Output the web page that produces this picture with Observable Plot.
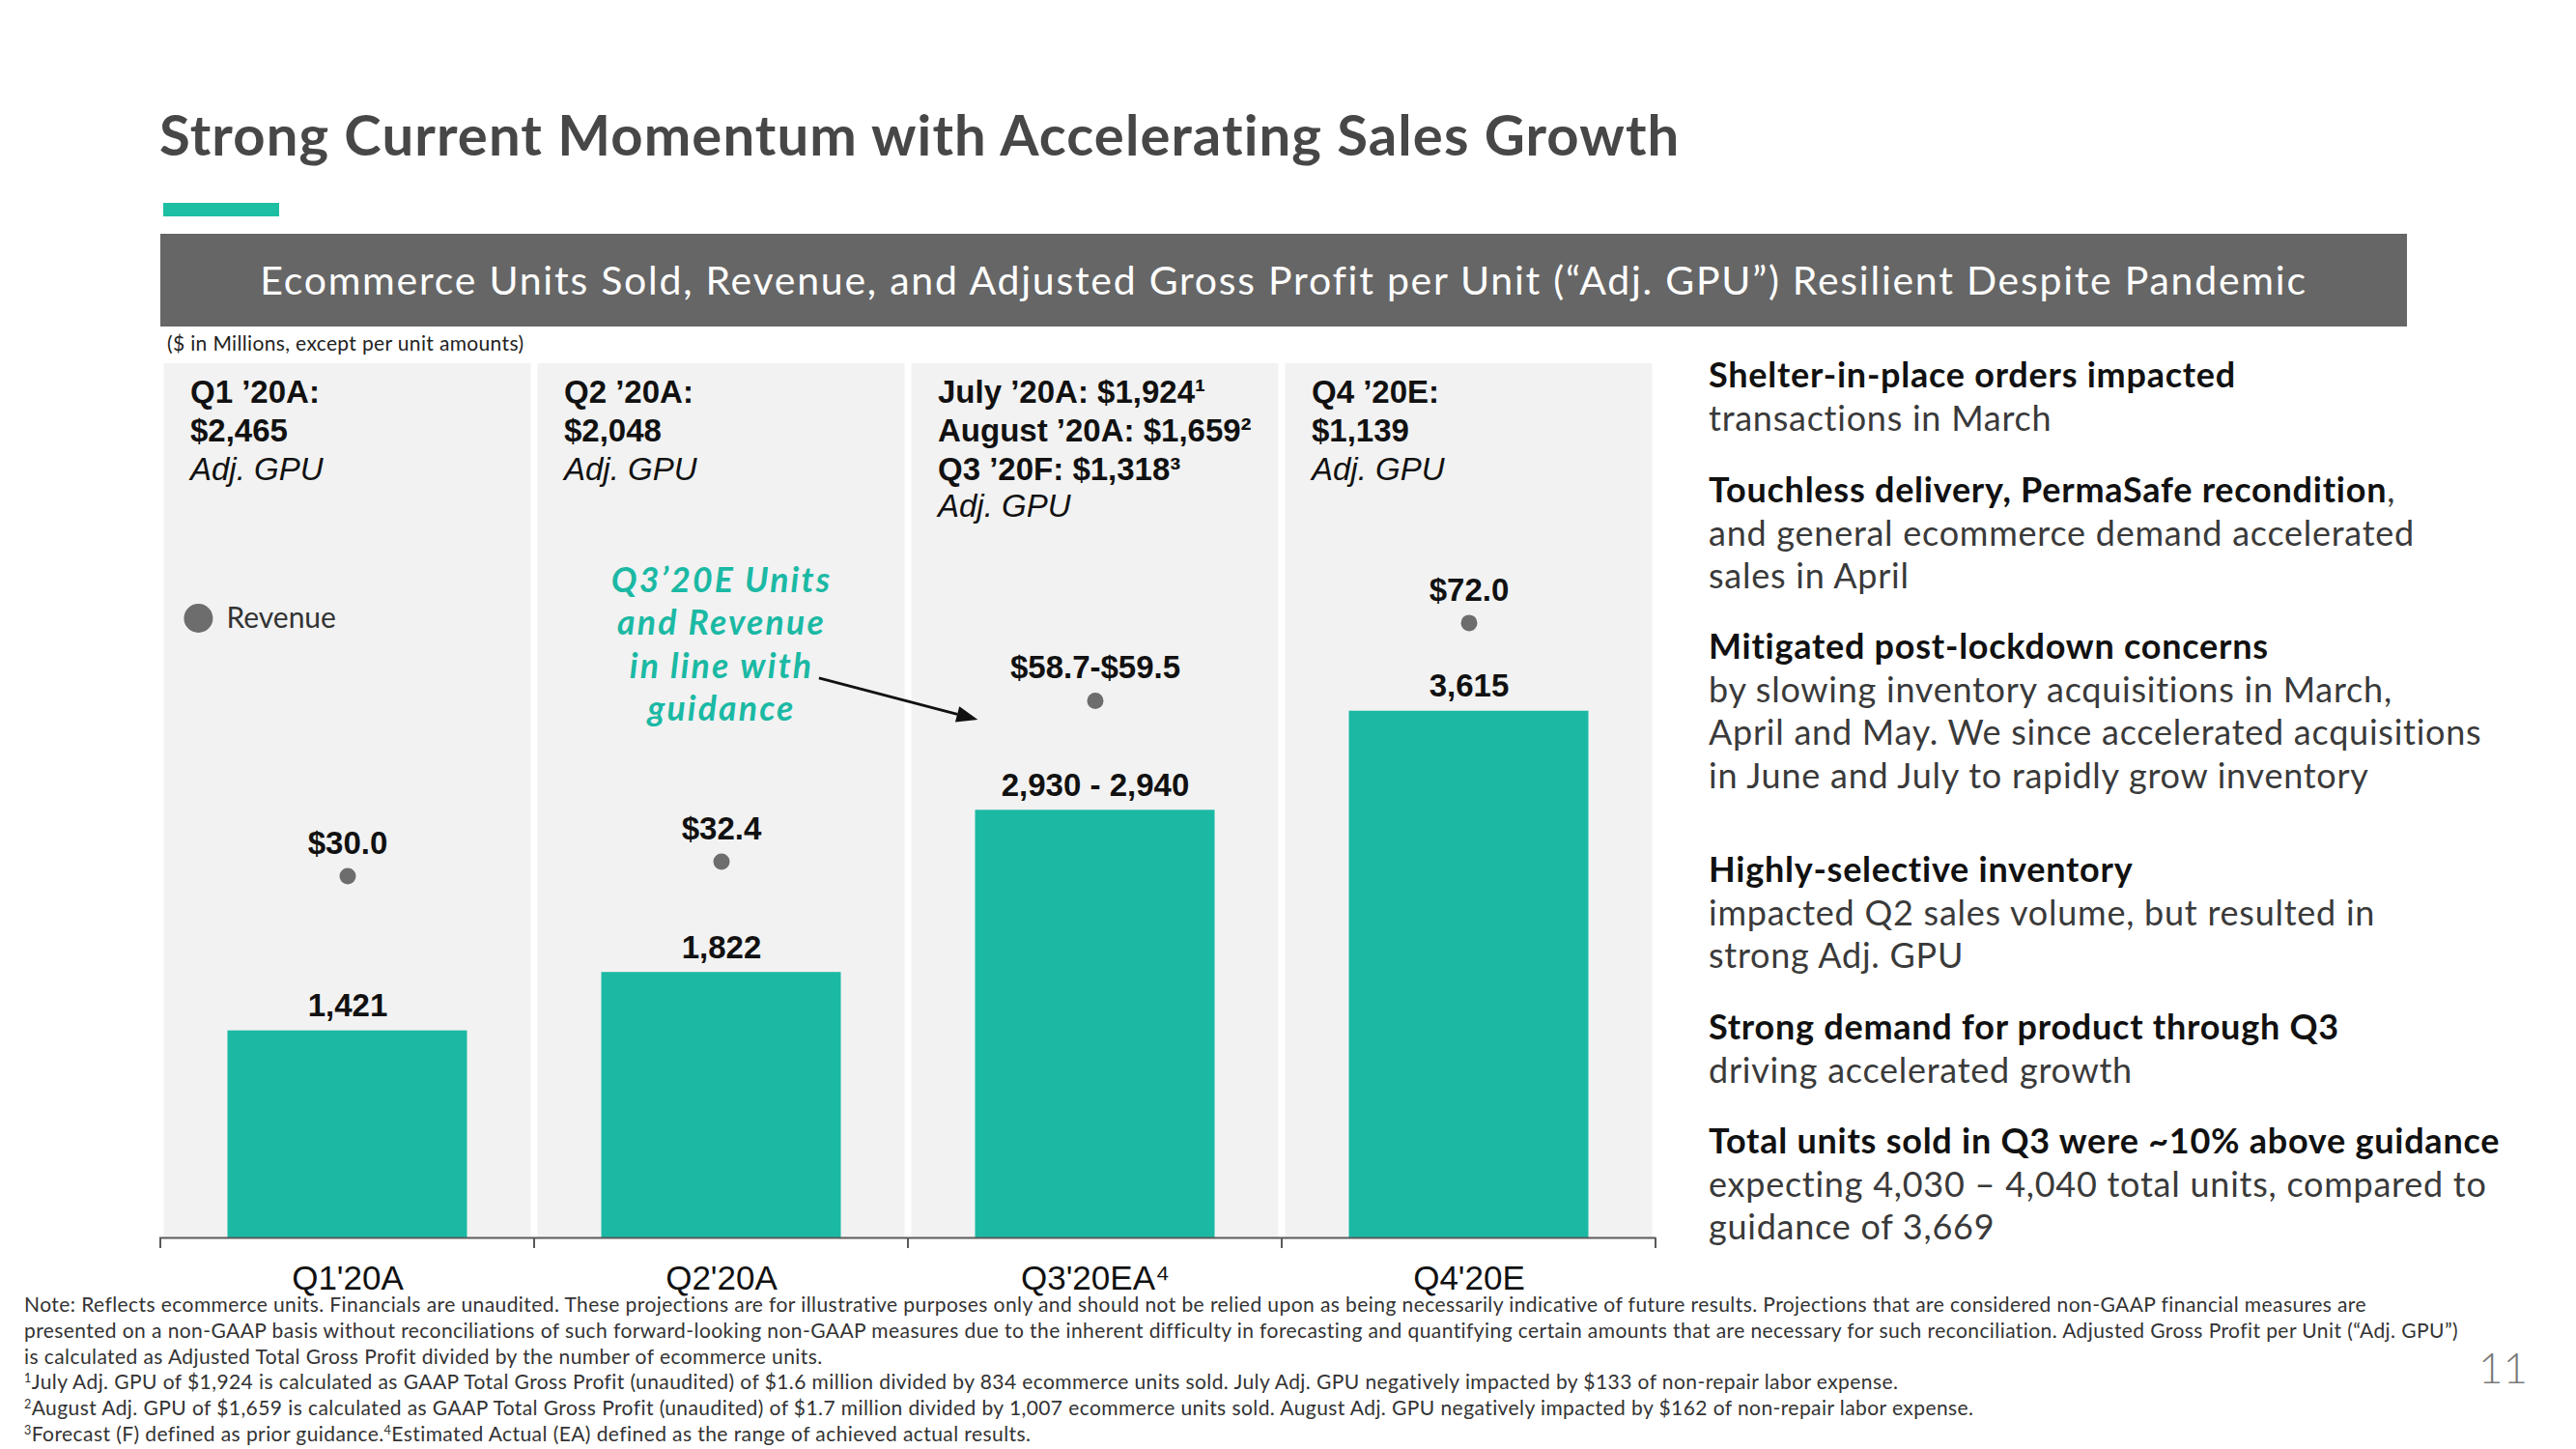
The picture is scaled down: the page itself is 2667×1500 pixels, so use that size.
<!DOCTYPE html>
<html>
<head>
<meta charset="utf-8">
<script src="https://cdn.jsdelivr.net/npm/d3@7"></script>
<script src="https://cdn.jsdelivr.net/npm/@observablehq/plot@0.6"></script>
<style>
html, body { margin:0; padding:0; background:#fff; }
#page { position:relative; width:2667px; height:1500px; overflow:hidden; font-family: Lato, "Noto Sans", sans-serif; }
.abs { position:absolute; white-space:nowrap; }
#title { left:165px; top:110px; font-size:58px; line-height:58px; font-weight:700; color:#474747; letter-spacing:1.1px; }
#accent { left:169px; top:210px; width:120px; height:14px; background:#1dbfa3; }
#band { left:166px; top:242px; width:2326px; height:96px; background:#666; color:#fff; font-size:41px; line-height:96px; text-align:center; letter-spacing:1.75px; }
#units-note { left:173px; top:343.5px; font-size:21px; line-height:22px; color:#222; letter-spacing:0.35px; }
#chart { position:absolute; left:0; top:360px; }
#chart g[fill="#1bb9a4"] text { letter-spacing:2.2px; }
.block { position:absolute; left:1769px; font-size:36px; line-height:44.5px; color:#3a3a3a; white-space:nowrap; letter-spacing:0.75px; }
.block b { color:#111; font-weight:700; }
#notes { position:absolute; left:25px; top:1337px; font-size:21px; line-height:26.8px; color:#333; white-space:nowrap; letter-spacing:0.42px; }
#notes sup { font-size:0.6em; line-height:0; vertical-align:0.55em; }
#pagenum { left:2566px; top:1393px; font-size:44px; line-height:44px; font-weight:300; color:#7a7a7a; }
</style>
</head>
<body>
<div id="page">
  <div id="title" class="abs">Strong Current Momentum with Accelerating Sales Growth</div>
  <div id="accent" class="abs"></div>
  <div id="band" class="abs">Ecommerce Units Sold, Revenue, and Adjusted Gross Profit per Unit (“Adj. GPU”) Resilient Despite Pandemic</div>
  <div id="units-note" class="abs">($ in Millions, except per unit amounts)</div>
  <div id="chart"></div>

  <div class="block" style="top:365px"><b>Shelter-in-place orders impacted</b><br>transactions in March</div>
  <div class="block" style="top:484px"><b>Touchless delivery, PermaSafe recondition</b>,<br>and general ecommerce demand accelerated<br>sales in April</div>
  <div class="block" style="top:646px"><b>Mitigated post-lockdown concerns</b><br>by slowing inventory acquisitions in March,<br>April and May. We since accelerated acquisitions<br>in June and July to rapidly grow inventory</div>
  <div class="block" style="top:877px"><b>Highly-selective inventory</b><br>impacted Q2 sales volume, but resulted in<br>strong Adj. GPU</div>
  <div class="block" style="top:1040px"><b>Strong demand for product through Q3</b><br>driving accelerated growth</div>
  <div class="block" style="top:1158px"><b>Total units sold in Q3 were ~10% above guidance</b><br>expecting 4,030 – 4,040 total units, compared to<br>guidance of 3,669</div>

  <div id="notes">
    Note: Reflects ecommerce units. Financials are unaudited. These projections are for illustrative purposes only and should not be relied upon as being necessarily indicative of future results. Projections that are considered non-GAAP financial measures are<br>
    presented on a non-GAAP basis without reconciliations of such forward-looking non-GAAP measures due to the inherent difficulty in forecasting and quantifying certain amounts that are necessary for such reconciliation. Adjusted Gross Profit per Unit (“Adj. GPU”)<br>
    is calculated as Adjusted Total Gross Profit divided by the number of ecommerce units.<br>
    <sup>1</sup>July Adj. GPU of $1,924 is calculated as GAAP Total Gross Profit (unaudited) of $1.6 million divided by 834 ecommerce units sold. July Adj. GPU negatively impacted by $133 of non-repair labor expense.<br>
    <sup>2</sup>August Adj. GPU of $1,659 is calculated as GAAP Total Gross Profit (unaudited) of $1.7 million divided by 1,007 ecommerce units sold. August Adj. GPU negatively impacted by $162 of non-repair labor expense.<br>
    <sup>3</sup>Forecast (F) defined as prior guidance.<sup>4</sup>Estimated Actual (EA) defined as the range of achieved actual results.
  </div>
  <div id="pagenum" class="abs">11</div>
</div>
<script>
// ---- data ----
const categories = ["Q1'20A", "Q2'20A", "Q3'20EA", "Q4'20E"];
const tickLabels = ["Q1'20A", "Q2'20A", "Q3'20EA⁴", "Q4'20E"];
const unitsLow  = [1421, 1822, 2930, 3615];
const unitsHigh = [1421, 1822, 2940, 3615];
const unitsLabels = ["1,421", "1,822", "2,930 - 2,940", "3,615"];
const revenueLow  = [30.0, 32.4, 58.7, 72.0];
const revenueHigh = [30.0, 32.4, 59.5, 72.0];
const revenueLabels = ["$30.0", "$32.4", "$58.7-$59.5", "$72.0"];
const gpuHeaders = [
  "Q1 ’20A:\n$2,465",
  "Q2 ’20A:\n$2,048",
  "July ’20A: $1,924¹\nAugust ’20A: $1,659²\nQ3 ’20F: $1,318³",
  "Q4 ’20E:\n$1,139"
];
const gpuCaption = "Adj. GPU";
const legendLabel = "Revenue";
const guidanceNote = "Q3’20E Units\nand Revenue\nin line with\nguidance";

// ---- styling ----
const TEAL = "#1bb9a4";
const DOT = "#6d6d6d";
const INK = "#111";
const NUM_FONT = "'Liberation Sans', Arial, sans-serif";

const rows = categories.map((cat, i) => ({
  cat,
  units: (unitsLow[i] + unitsHigh[i]) / 2,
  unitsLabel: unitsLabels[i],
  rev: (revenueLow[i] + revenueHigh[i]) / 2,
  revLabel: revenueLabels[i],
  header: gpuHeaders[i],
  headerLines: gpuHeaders[i].split("\n").length
}));

const unitsMax = 6000;
// revenue shares the frame with units via its own (hidden) linear mapping
const revenueToUnits = d3.scaleLinear().domain([-30, 115]).range([0, unitsMax]);

// annotation arrow geometry (fraction along band, units-equivalent height)
const arrowGeom = {
  from: {cat: categories[1], along: 0.762, units: 3840},
  to:   {cat: categories[2], along: 0.187, units: 3554}
};

function boundaryTicks(index, scales) {
  const x = scales.x, y = scales.y, bw = x.bandwidth();
  const y0 = y(0);
  const xs = categories.map(c => x(c)).concat([x(categories[categories.length - 1]) + bw]);
  const g = d3.create("svg:g");
  g.selectAll("line").data(xs).join("line")
    .attr("x1", d => d).attr("x2", d => d)
    .attr("y1", y0).attr("y2", y0 + 11)
    .attr("stroke", "#5a5a5a").attr("stroke-width", 2);
  return g.node();
}

function guidanceArrow(index, scales) {
  const x = scales.x, y = scales.y, bw = x.bandwidth();
  const x1 = x(arrowGeom.from.cat) + bw * arrowGeom.from.along, y1 = y(arrowGeom.from.units);
  const x2 = x(arrowGeom.to.cat) + bw * arrowGeom.to.along, y2 = y(arrowGeom.to.units);
  const a = Math.atan2(y2 - y1, x2 - x1), L = 22, H = 8.5;
  const bx = x2 - L * Math.cos(a), by = y2 - L * Math.sin(a);
  const g = d3.create("svg:g");
  g.append("line").attr("x1", x1).attr("y1", y1).attr("x2", bx).attr("y2", by)
    .attr("stroke", INK).attr("stroke-width", 2.8);
  g.append("path")
    .attr("d", `M${x2},${y2}L${bx - H * Math.sin(a)},${by + H * Math.cos(a)}L${bx + H * Math.sin(a)},${by - H * Math.cos(a)}Z`)
    .attr("fill", INK);
  return g.node();
}

const headerOpts = {x: "cat", frameAnchor: "top", lineAnchor: "top", textAnchor: "start", dx: -163, fontSize: 33, fill: INK};

const chart = Plot.plot({
  width: 1760,
  height: 1000,
  marginTop: 16,
  marginRight: 46,
  marginBottom: 79,
  marginLeft: 165,
  style: {background: "transparent", color: INK, fontFamily: NUM_FONT, overflow: "visible", maxWidth: "none"},
  x: {domain: categories, padding: 0, axis: null},
  y: {domain: [0, unitsMax], axis: null},
  marks: [
    Plot.cell(rows, {x: "cat", fill: "#f2f2f2", insetLeft: 3.5, insetRight: 3.5}),
    Plot.barY(rows, {x: "cat", y: "units", fill: TEAL, insetLeft: 69.5, insetRight: 69.5}),
    Plot.ruleY([0], {stroke: "#5a5a5a", strokeWidth: 2}),
    boundaryTicks,
    Plot.axisX({label: null, tickSize: 0, tickPadding: 29, fontSize: 35, fill: INK, tickFormat: d => tickLabels[categories.indexOf(d)]}),
    Plot.text(rows, {x: "cat", y: "units", text: "unitsLabel", dy: -15, lineAnchor: "bottom", fontSize: 33, fontWeight: "bold", fill: INK}),
    Plot.dot(rows, {x: "cat", y: d => revenueToUnits(d.rev), r: 8.5, fill: DOT}),
    Plot.text(rows, {x: "cat", y: d => revenueToUnits(d.rev), text: "revLabel", dy: -23, lineAnchor: "bottom", fontSize: 33, fontWeight: "bold", fill: INK}),
    Plot.text(rows, {...headerOpts, text: "header", dy: 12, fontWeight: "bold", lineHeight: 40 / 33}),
    Plot.text(rows.filter(d => d.headerLines === 2), {...headerOpts, text: () => gpuCaption, dy: 97, fontStyle: "italic"}),
    Plot.text(rows.filter(d => d.headerLines === 3), {...headerOpts, text: () => gpuCaption, dy: 135, fontStyle: "italic"}),
    Plot.dot([legendLabel], {x: () => categories[0], frameAnchor: "top", dx: -154.6, dy: 263.5, r: 15, fill: DOT}),
    Plot.text([legendLabel], {x: () => categories[0], text: d => d, frameAnchor: "top", dx: -125.6, dy: 263.5, textAnchor: "start", lineAnchor: "middle", fontSize: 30, fontFamily: "Lato", fill: "#333"}),
    Plot.text([guidanceNote], {x: () => categories[1], text: d => d, frameAnchor: "top", lineAnchor: "top", dy: 205, fontSize: 35.5, fontWeight: "bold", fontStyle: "italic", fontFamily: "Lato", lineHeight: 44.3 / 35.5, fill: TEAL}),
    guidanceArrow
  ]
});
document.getElementById("chart").appendChild(chart);
</script>
</body>
</html>
